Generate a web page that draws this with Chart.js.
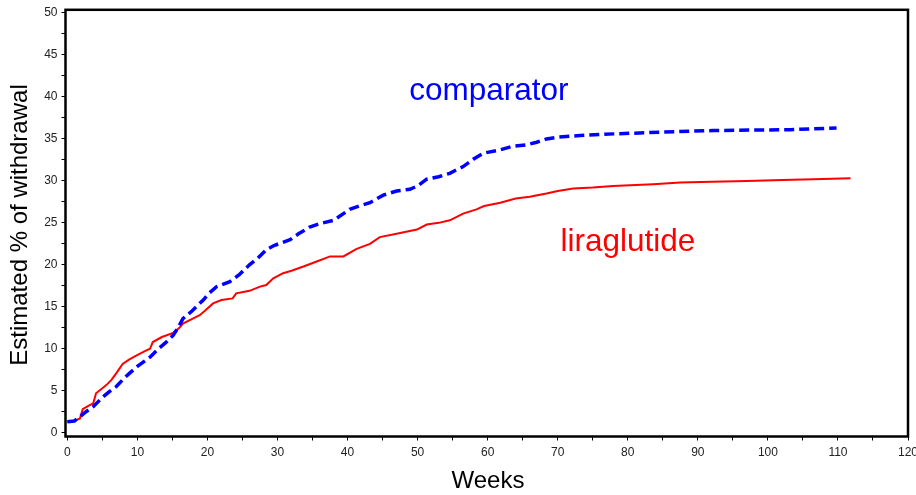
<!DOCTYPE html>
<html>
<head>
<meta charset="utf-8">
<script src="https://cdn.jsdelivr.net/npm/chart.js@4/dist/chart.umd.min.js"></script>
<style>
  html, body { margin: 0; padding: 0; background: #fff; }
  #wrap { width: 916px; height: 495px; }
</style>
</head>
<body>
<div id="wrap"><canvas id="curvas"></canvas></div>
<script>
// curvas de retirada estimada (% acumulado) por semana
const liraSemanas = [0, 1, 1.8, 2.2, 3, 3.7, 4.1, 5, 5.6, 6.3, 7, 7.9, 8.8, 9.9, 11, 11.8, 12.2, 13.5, 15.1, 16,
  16.5, 17.9, 18.9, 19.6, 20.8, 22, 23.6, 24.1, 26, 27.5, 28.4, 29.4, 30.8, 32, 33.7, 35.6, 37.5, 39.4, 41.3, 43.2,
  44.6, 47, 49.9, 51.3, 53, 54.6, 56.5, 58.4, 59.5, 61.8, 64, 66, 68.4, 70, 72.2, 75, 77.9, 83.6, 87.5, 92,
  97, 102, 106.5, 111.8];
const liraPct = [1.3, 1.4, 1.7, 2.8, 3.2, 3.5, 4.7, 5.3, 5.7, 6.3, 7.1, 8.2, 8.7, 9.2, 9.7, 10.0, 10.8, 11.4, 11.9, 12.5,
  13.0, 13.6, 14.0, 14.5, 15.4, 15.8, 16.0, 16.6, 16.9, 17.4, 17.6, 18.4, 19.0, 19.3, 19.8, 20.4, 21.0, 21.0, 21.9, 22.5,
  23.3, 23.7, 24.2, 24.8, 25.0, 25.3, 26.1, 26.6, 27.0, 27.4, 27.9, 28.1, 28.5, 28.8, 29.1, 29.2, 29.4, 29.6, 29.8, 29.9,
  30.0, 30.1, 30.2, 30.3];

const compSemanas = [0, 1, 1.8, 2.5, 3.7, 5, 6, 7, 8, 8.9, 10, 11.8, 13, 14, 15.1, 15.8, 16.5, 17.8, 19.4, 20.2,
  21.3, 23.2, 24.5, 26, 27.2, 28.4, 29.5, 31.8, 33, 34.6, 36, 38, 40.3, 42, 43.2, 45.1, 47, 48.9, 50, 51.3,
  53, 54.6, 55.5, 56.5, 58, 59.4, 61.8, 63.5, 65.6, 67, 68.4, 70, 73.2, 78, 84.6, 92.2, 103.2, 109.8];
const compPct = [1.3, 1.4, 1.9, 2.4, 3.1, 4.2, 4.9, 5.5, 6.4, 7.1, 7.9, 9.0, 10.0, 10.7, 11.6, 12.5, 13.6, 14.5, 15.8, 16.6,
  17.4, 18.0, 18.8, 20.0, 20.8, 21.8, 22.3, 23.0, 23.7, 24.5, 24.9, 25.3, 26.6, 27.1, 27.4, 28.3, 28.8, 29.0, 29.4, 30.2,
  30.5, 30.9, 31.3, 31.7, 32.6, 33.3, 33.7, 34.1, 34.3, 34.6, 35.0, 35.2, 35.4, 35.6, 35.8, 36.0, 36.1, 36.3];

const ticksX = [0, 5, 10, 15, 20, 25, 30, 35, 40, 45, 50, 55, 60, 65, 70, 75, 80, 85, 90, 95, 100, 105, 110, 115, 120];
const ticksY = [0, 2.5, 5, 7.5, 10, 12.5, 15, 17.5, 20, 22.5, 25, 27.5, 30, 32.5, 35, 37.5, 40, 42.5, 45, 47.5, 50];

// rótulos das curvas (posição em semanas / %)
const rotulos = [
  { texto: 'comparator', x: 48.8, y: 39.6, cor: '#0000ff' },
  { texto: 'liraglutide', x: 70.4, y: 21.6, cor: '#ff0000' }
];

const fonte = '"Liberation Sans", Arial, sans-serif';

function pares(xs, ys) {
  return xs.map((x, i) => ({ x: x, y: ys[i] }));
}

// sem folga extra para os rótulos das pontas, a área fica fixa
function semFolga(s) {
  s.paddingLeft = 0;
  s.paddingRight = 0;
  s.paddingTop = 0;
  s.paddingBottom = 0;
}

// moldura, títulos dos eixos e rótulos das curvas
const extras = {
  id: 'extras',
  afterDraw(chart) {
    const ctx = chart.ctx;
    const a = chart.chartArea;
    const sx = chart.scales.x, sy = chart.scales.y;
    ctx.save();
    ctx.strokeStyle = '#000';
    ctx.lineWidth = 2.5;
    ctx.strokeRect(a.left, a.top, a.right - a.left, a.bottom - a.top);

    ctx.fillStyle = '#000';
    ctx.font = '24px ' + fonte;
    ctx.textAlign = 'center';
    ctx.textBaseline = 'middle';
    ctx.fillText('Weeks', 488, 481);
    ctx.translate(20, 225);
    ctx.rotate(-Math.PI / 2);
    ctx.fillText('Estimated % of withdrawal', 0, 0);
    ctx.restore();

    ctx.save();
    ctx.font = '31.5px ' + fonte;
    ctx.textAlign = 'left';
    ctx.textBaseline = 'alphabetic';
    rotulos.forEach(r => {
      ctx.fillStyle = r.cor;
      ctx.fillText(r.texto, sx.getPixelForValue(r.x), sy.getPixelForValue(r.y));
    });
    ctx.restore();
  }
};

new Chart(document.getElementById('curvas'), {
  type: 'scatter',
  data: {
    datasets: [
      {
        label: 'comparator',
        data: pares(compSemanas, compPct),
        showLine: true,
        borderColor: '#0000ff',
        borderWidth: 3.5,
        borderDash: [10, 5],
        pointRadius: 0,
        tension: 0
      },
      {
        label: 'liraglutide',
        data: pares(liraSemanas, liraPct),
        showLine: true,
        borderColor: '#ff0000',
        borderWidth: 2,
        pointRadius: 0,
        tension: 0
      }
    ]
  },
  options: {
    responsive: true,
    maintainAspectRatio: false,
    animation: false,
    layout: { padding: { top: 9.8, right: 8, left: 0, bottom: 0 } },
    plugins: { legend: { display: false }, tooltip: { enabled: false } },
    scales: {
      x: {
        type: 'linear',
        min: -0.26,
        max: 120,
        afterFit: s => { s.height = 58.5; semFolga(s); },
        afterBuildTicks: s => { s.ticks = ticksX.map(v => ({ value: v })); },
        border: { display: false },
        grid: { drawOnChartArea: false, color: '#000', tickLength: 4, lineWidth: 1 },
        ticks: {
          autoSkip: false,
          maxRotation: 0,
          padding: 5,
          color: '#222',
          font: { family: fonte, size: 12 },
          callback: v => (v % 10 === 0 ? v : '')
        }
      },
      y: {
        type: 'linear',
        min: -0.45,
        max: 50.38,
        afterFit: s => { s.width = 65.5; semFolga(s); },
        afterBuildTicks: s => { s.ticks = ticksY.map(v => ({ value: v })); },
        border: { display: false },
        grid: { drawOnChartArea: false, color: '#000', tickLength: 4, lineWidth: 1 },
        ticks: {
          autoSkip: false,
          padding: 4,
          color: '#222',
          font: { family: fonte, size: 12 },
          callback: v => (v % 5 === 0 ? v : '')
        }
      }
    }
  },
  plugins: [extras]
});
</script>
</body>
</html>
